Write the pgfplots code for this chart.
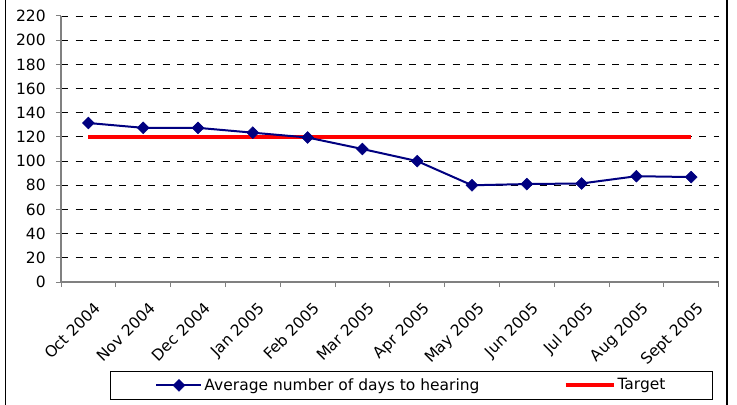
\documentclass[border=0pt]{standalone}
\usepackage{pgfplots}
\pgfplotsset{compat=1.18}
\usepackage{fontspec}
\setmainfont{DejaVu Sans}
\definecolor{navyc}{HTML}{000080}
\begin{document}
\fontsize{15.5bp}{18bp}\selectfont
\begin{tikzpicture}
\useasboundingbox (0,0) rectangle (737bp,405bp);
\draw[line width=1.5bp] (5.5bp,0) -- (5.5bp,405bp);
\draw[line width=1.5bp] (727bp,0) -- (727bp,405bp);
\begin{axis}[
  at={(61bp,123bp)}, anchor=south west,
  scale only axis, width=657.6bp, height=266bp,
  xmin=-0.5, xmax=11.5, ymin=0, ymax=220,
  clip=false,
  axis lines*=left,
  axis line style={draw=gray, line width=1.2bp},
  ytick={0,20,...,220},
  ymajorgrids,
  grid style={black, dash pattern=on 7bp off 7.5bp, line width=0.9bp},
  tick align=outside, major tick length=5bp,
  tick style={gray, line width=1bp},
  xtick={-0.5,0.5,...,11.5}, xticklabels={},
  extra x ticks={0,1,2,3,4,5,6,7,8,9,10,11},
  extra x tick labels={Oct 2004,Nov 2004,Dec 2004,Jan 2005,Feb 2005,Mar 2005,Apr 2005,May 2005,Jun 2005,Jul 2005,Aug 2005,Sept 2005},
  extra x tick style={major tick length=0pt, grid=none},
  xticklabel style={rotate=45, anchor=north east, inner sep=1bp, xshift=-9bp, yshift=-16bp},
  yticklabel style={xshift=-5bp},
  ticklabel style={font=\fontsize{15.5bp}{18bp}\selectfont},
  /pgf/number format/assume math mode=true,
  legend columns=2,
  reverse legend,
  legend style={at={(0.0745,-0.4435)}, anchor=south west, draw=black, line width=1bp,
    inner xsep=45bp, inner ysep=5bp, font=\fontsize{15.5bp}{18bp}\selectfont},
  legend cell align=left,
]
\addplot[red, line width=4bp, legend image code/.code={\draw[red, line width=4bp] (0bp,0bp) -- (48bp,0bp);}]
  coordinates {(0,120) (11,120)};
\addlegendentry{Target}
\addplot[navyc, line width=2bp, mark=square*, mark size=4.2bp, mark options={rotate=45, fill=navyc, line width=0.5bp},
  legend image code/.code={\draw[mark repeat=2, mark phase=2] plot coordinates {(0bp,0bp) (22.5bp,0bp) (45bp,0bp)};}]
  coordinates {(0,131.5) (1,127.5) (2,127.5) (3,123.5) (4,119.5) (5,110) (6,100) (7,80) (8,81) (9,81.5) (10,87.5) (11,86.8)};
\addlegendentry{Average number of days to hearing\hspace*{82bp}}
\end{axis}
\end{tikzpicture}
\end{document}
